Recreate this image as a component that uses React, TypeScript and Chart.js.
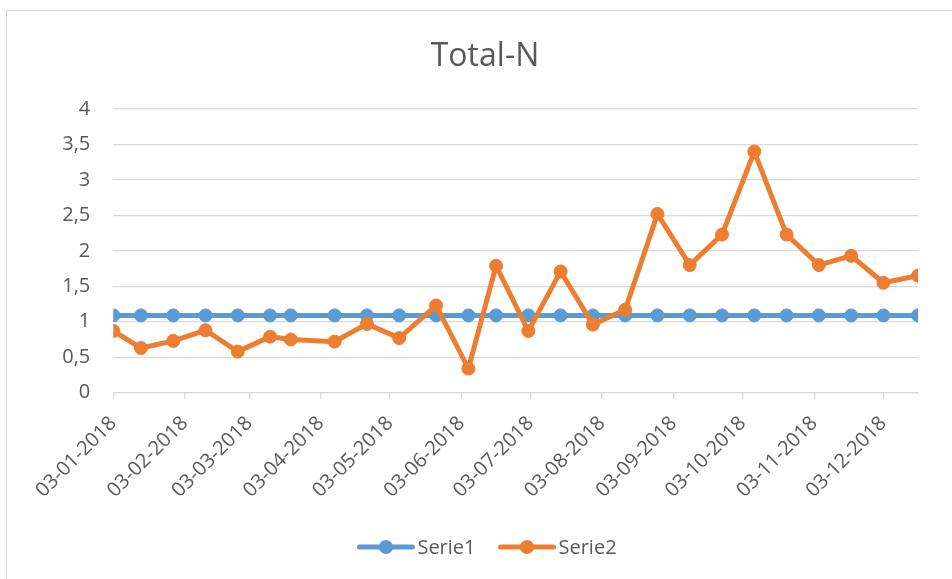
import React, { useEffect, useRef } from 'react';
import { Chart, registerables } from 'chart.js';

Chart.register(...registerables);

const chartTitle = 'Total-N';
const seriesNames = ['Serie1', 'Serie2'];
const sampleDates = [
  '03-01-2018', '15-01-2018', '29-01-2018', '12-02-2018', '26-02-2018', '12-03-2018',
  '21-03-2018', '09-04-2018', '23-04-2018', '07-05-2018', '23-05-2018', '06-06-2018',
  '18-06-2018', '02-07-2018', '16-07-2018', '30-07-2018', '13-08-2018', '27-08-2018',
  '10-09-2018', '24-09-2018', '08-10-2018', '22-10-2018', '05-11-2018', '19-11-2018',
  '03-12-2018', '18-12-2018',
];
const serie1Values = [
  1.09, 1.09, 1.09, 1.09, 1.09, 1.09, 1.09, 1.09, 1.09, 1.09, 1.09, 1.09, 1.09,
  1.09, 1.09, 1.09, 1.09, 1.09, 1.09, 1.09, 1.09, 1.09, 1.09, 1.09, 1.09, 1.09,
];
const serie2Values = [
  0.87, 0.63, 0.73, 0.88, 0.58, 0.79, 0.75, 0.72, 0.97, 0.77, 1.23, 0.34, 1.79,
  0.87, 1.71, 0.96, 1.17, 2.52, 1.80, 2.23, 3.40, 2.23, 1.80, 1.93, 1.55, 1.65,
];
const xTickLabels = [
  '03-01-2018', '03-02-2018', '03-03-2018', '03-04-2018', '03-05-2018', '03-06-2018',
  '03-07-2018', '03-08-2018', '03-09-2018', '03-10-2018', '03-11-2018', '03-12-2018',
];
const yMin = 0;
const yMax = 4;
const yStep = 0.5;

const BLUE = '#5B9BD5';
const ORANGE = '#ED7D31';
const TEXT = '#595959';
const GRID = '#D9D9D9';
const FONT = '"Open Sans", "Noto Sans", sans-serif';
const CENTER_X = 487;

const toDay = (s: string) => {
  const [d, m, y] = s.split('-').map(Number);
  return Date.UTC(y, m - 1, d) / 86400000;
};
const pad2 = (n: number) => (n < 10 ? '0' + n : '' + n);
const fmtDay = (day: number) => {
  const dt = new Date(Math.round(day) * 86400000);
  return `${pad2(dt.getUTCDate())}-${pad2(dt.getUTCMonth() + 1)}-${dt.getUTCFullYear()}`;
};

const decorPlugin = {
  id: 'excelDecor',
  beforeDraw(chart: any) {
    const { ctx, width, height } = chart;
    ctx.save();
    ctx.fillStyle = '#ffffff';
    ctx.fillRect(0, 0, width, height);
    ctx.strokeStyle = GRID;
    ctx.lineWidth = 1;
    ctx.beginPath();
    ctx.moveTo(6.5, height);
    ctx.lineTo(6.5, 10.5);
    ctx.lineTo(width, 10.5);
    ctx.stroke();
    ctx.restore();
  },
  afterDraw(chart: any) {
    const ctx = chart.ctx;
    ctx.save();
    ctx.fillStyle = TEXT;
    ctx.font = `32px ${FONT}`;
    ctx.textAlign = 'center';
    ctx.textBaseline = 'alphabetic';
    ctx.fillText(chartTitle, 485, 66);

    ctx.font = `20px ${FONT}`;
    const items = chart.data.datasets.map((ds: any) => ({ label: ds.label, color: ds.borderColor }));
    const lineLen = 57;
    const gap = 3;
    const itemGap = 23;
    const widths = items.map((it: any) => ctx.measureText(it.label).width);
    const total =
      widths.reduce((a: number, b: number) => a + b, 0) +
      items.length * (lineLen + gap) +
      (items.length - 1) * itemGap;
    let x = CENTER_X - total / 2;
    const y = 547;
    items.forEach((it: any, i: number) => {
      ctx.strokeStyle = it.color;
      ctx.fillStyle = it.color;
      ctx.lineWidth = 5;
      ctx.lineCap = 'round';
      ctx.beginPath();
      ctx.moveTo(x + 2, y);
      ctx.lineTo(x + lineLen - 2, y);
      ctx.stroke();
      ctx.beginPath();
      ctx.arc(x + lineLen / 2, y, 7, 0, Math.PI * 2);
      ctx.fill();
      ctx.fillStyle = TEXT;
      ctx.textAlign = 'left';
      ctx.textBaseline = 'middle';
      ctx.fillText(it.label, x + lineLen + gap, y + 1);
      x += lineLen + gap + widths[i] + itemGap;
    });
    ctx.restore();
  },
};

export default function App() {
  const canvasRef = useRef<HTMLCanvasElement | null>(null);

  useEffect(() => {
    if (!canvasRef.current) return;
    const days = sampleDates.map(toDay);
    const tickDays = xTickLabels.map(toDay);
    const mk = (vals: number[]) => vals.map((v, i) => ({ x: days[i], y: v }));

    const chart = new Chart(canvasRef.current, {
      type: 'line',
      data: {
        datasets: [
          {
            label: seriesNames[0],
            data: mk(serie1Values),
            borderColor: BLUE,
            backgroundColor: BLUE,
            borderWidth: 5,
            pointRadius: 6.5,
            pointBorderWidth: 1,
            pointBackgroundColor: BLUE,
            pointBorderColor: BLUE,
            tension: 0,
            order: 2,
          },
          {
            label: seriesNames[1],
            data: mk(serie2Values),
            borderColor: ORANGE,
            backgroundColor: ORANGE,
            borderWidth: 5,
            pointRadius: 6.5,
            pointBorderWidth: 1,
            pointBackgroundColor: ORANGE,
            pointBorderColor: ORANGE,
            tension: 0,
            order: 1,
          },
        ],
      },
      options: {
        animation: false,
        responsive: false,
        devicePixelRatio: 1,
        layout: { padding: { top: 109, right: 34, bottom: 0, left: 0 } },
        plugins: {
          legend: { display: false },
          title: { display: false },
          tooltip: { enabled: false },
        },
        scales: {
          x: {
            type: 'linear',
            min: days[0],
            max: days[days.length - 1],
            afterBuildTicks: (scale: any) => {
              scale.ticks = tickDays.map((v) => ({ value: v }));
            },
            afterFit: (scale: any) => {
              scale.height = 186.3;
            },
            border: { display: true, color: GRID, width: 1.3 },
            grid: {
              drawOnChartArea: false,
              drawTicks: true,
              tickLength: 6,
              color: GRID,
              lineWidth: 1.3,
            },
            ticks: {
              autoSkip: false,
              minRotation: 45,
              maxRotation: 45,
              padding: 13,
              color: TEXT,
              font: { family: FONT, size: 20 },
              callback: (v: any) => fmtDay(Number(v)),
            },
          },
          y: {
            min: yMin,
            max: yMax,
            afterFit: (scale: any) => {
              scale.width = 113.3;
            },
            border: { display: false },
            grid: { color: GRID, lineWidth: 1.3, drawTicks: false },
            ticks: {
              stepSize: yStep,
              padding: 23,
              color: TEXT,
              font: { family: FONT, size: 20 },
              callback: (v: any) => String(v).replace('.', ','),
            },
          },
        },
      },
      plugins: [decorPlugin],
    } as any);

    return () => chart.destroy();
  }, []);

  return (
    <div style={{ position: 'fixed', left: 0, top: 0, width: 952, height: 579, background: '#fff' }}>
      <canvas ref={canvasRef} width={952} height={579} style={{ display: 'block', width: 952, height: 579 }} />
    </div>
  );
}
